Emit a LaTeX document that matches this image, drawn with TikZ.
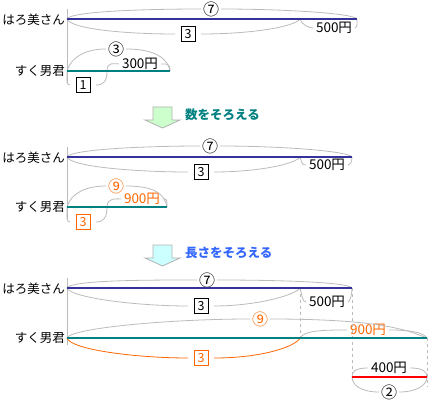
\documentclass[tikz,border=0pt]{standalone}
\usepackage{fontspec}
\setmainfont{Noto Sans CJK JP}
\usetikzlibrary{
    arrows,
    calc,
    %positioning,
    %shapes,
}
\definecolor{barblue}{HTML}{333399}
\definecolor{barteal}{HTML}{008080}
\definecolor{saygreen}{HTML}{008080}
\definecolor{sayblue}{HTML}{3366FF}
\definecolor{partorange}{HTML}{FF6600}
\definecolor{curlgray}{HTML}{BBBBBB}
\definecolor{fillgreen}{HTML}{CCFFCC}
\definecolor{fillcyan}{HTML}{CCFFFF}

\begin{document}
\begin{tikzpicture}[x=1pt, y=-1pt, font=\fontsize{12.5}{15}\selectfont,
    person/.style = {anchor=east, inner sep=1pt},
    tape/.style = {line width=2.5pt},
    curl/.style = {draw=curlgray, line width=0.8pt},
    tag/.style = {inner sep=1pt, outer sep=2pt, font=\fontsize{13.5}{15}\selectfont},
    circled/.style = {inner sep=0pt, outer sep=2pt, font=\fontsize{16}{16}\selectfont},
    numbox/.style = {draw, minimum width=14pt, minimum height=15pt, inner sep=0pt, outer sep=6pt, line width=0.8pt},
    blockarrow/.style = {draw=gray!60, line width=0.8pt},
    say/.style = {anchor=west, inner sep=0pt, font=\fontsize{12.5}{15}\selectfont\bfseries}]
    \useasboundingbox (0,0) rectangle (431,401);

    % first
    \node[person] (h1) at (66,20) {はろ美さん};
    \node[person] (s1) at (66,71) {すく男君};
    \coordinate (v1t) at (67,9);
    \coordinate (v1b) at (67,83);
    \coordinate (h1a) at (67,19);
    \coordinate (h1c) at (300,19);
    \coordinate (h1b) at (357,19);
    \coordinate (s1a) at (67,71);
    \coordinate (s1c) at (107,71);
    \coordinate (s1b) at (170,71);
    \node[circled] (n7a) at (211,9) {⑦};
    \node[numbox] (b3a) at (188,34) {3};
    \node[tag] (y500a) at (334,28) {500円};
    \node[circled] (n3a) at (116,49) {③};
    \node[tag] (y300) at (140,64) {300円};
    \node[numbox] (b1) at (83,85) {1};
    \draw[curl] (v1t) -- (v1b);
    \draw[curl] (h1a) .. controls +(4,-8) and +(-50,0) .. (n7a.west);
    \draw[curl] (n7a.east) .. controls +(60,0) and +(-4,-6) .. (h1b);
    \draw[curl] (h1a) .. controls +(4,10) and +(-50,0) .. (b3a.west);
    \draw[curl] (b3a.east) .. controls +(50,0) and +(-6,8) .. (h1c);
    \draw[curl] (h1c) .. controls +(2,6) and +(-4,0) .. (y500a.west);
    \draw[curl] (y500a.east) .. controls +(2,0) and +(0,8) .. (h1b);
    \draw[curl] (s1a) .. controls +(4,-14) and +(-20,0) .. (n3a.west);
    \draw[curl] (n3a.east) .. controls +(30,0) and +(-2,-12) .. (s1b);
    \draw[curl] (s1c) .. controls +(0,-10) and +(-4,0) .. (y300.west);
    \draw[curl] (y300.east) .. controls +(6,0) and +(0,-8) .. (s1b);
    \draw[curl] (s1a) .. controls +(0,10) and +(-4,0) .. (b1.west);
    \draw[curl] (b1.east) .. controls +(8,0) and +(0,10) .. (s1c);
    \draw[tape, barblue] (h1a) -- (h1b);
    \draw[tape, barteal] (s1a) -- (s1b);

    \draw[blockarrow, fill=fillgreen] (153,107) -- (172,107) -- (172,120) -- (180,120) -- (162.5,128) -- (145,120) -- (153,120) -- cycle;
    \node[say, text=saygreen] (say1) at (185,115) {数をそろえる};

    % second
    \node[person] (h2) at (66,158) {はろ美さん};
    \node[person] (s2) at (66,207) {すく男君};
    \coordinate (v2t) at (67,147);
    \coordinate (v2b) at (67,220);
    \coordinate (h2a) at (67,157);
    \coordinate (h2c) at (300,157);
    \coordinate (h2b) at (352,157);
    \coordinate (s2a) at (67,207);
    \coordinate (s2c) at (107,207);
    \coordinate (s2b) at (167,207);
    \node[circled] (n7b) at (210,146) {⑦};
    \node[numbox] (b3b) at (201,172) {3};
    \node[tag] (y500b) at (327,165) {500円};
    \node[circled, text=partorange] (n9b) at (116,186) {⑨};
    \node[tag, text=partorange] (y900b) at (142,199) {900円};
    \node[numbox, draw=partorange, text=partorange] (b3o) at (83,222) {3};
    \draw[curl] (v2t) -- (v2b);
    \draw[curl] (h2a) .. controls +(4,-8) and +(-50,0) .. (n7b.west);
    \draw[curl] (n7b.east) .. controls +(60,0) and +(-4,-6) .. (h2b);
    \draw[curl] (h2a) .. controls +(4,10) and +(-50,0) .. (b3b.west);
    \draw[curl] (b3b.east) .. controls +(40,0) and +(-6,8) .. (h2c);
    \draw[curl] (h2c) .. controls +(2,6) and +(-4,0) .. (y500b.west);
    \draw[curl] (y500b.east) .. controls +(2,0) and +(0,6) .. (h2b);
    \draw[curl] (s2a) .. controls +(4,-14) and +(-20,0) .. (n9b.west);
    \draw[curl] (n9b.east) .. controls +(30,0) and +(-2,-12) .. (s2b);
    \draw[curl] (s2c) .. controls +(0,-10) and +(-4,0) .. (y900b.west);
    \draw[curl] (y900b.east) .. controls +(4,0) and +(0,-8) .. (s2b);
    \draw[curl] (s2a) .. controls +(0,10) and +(-4,0) .. (b3o.west);
    \draw[curl] (b3o.east) .. controls +(8,0) and +(0,10) .. (s2c);
    \draw[tape, barblue] (h2a) -- (h2b);
    \draw[tape, barteal] (s2a) -- (s2b);

    \draw[blockarrow, fill=fillcyan] (153,245) -- (172,245) -- (172,258) -- (180,258) -- (162.5,266) -- (145,258) -- (153,258) -- cycle;
    \node[say, text=sayblue] (say2) at (185,253) {長さをそろえる};

    % third
    \node[person] (h3) at (66,289) {はろ美さん};
    \node[person] (s3) at (66,338) {すく男君};
    \coordinate (v3t) at (67,278);
    \coordinate (v3b) at (67,345);
    \coordinate (h3a) at (67,288);
    \coordinate (h3c) at (300,288);
    \coordinate (h3b) at (352,288);
    \coordinate (s3a) at (67,338);
    \coordinate (s3c) at (300,338);
    \coordinate (s3b) at (427,338);
    \coordinate (r3a) at (352,377);
    \coordinate (r3b) at (427,377);
    \coordinate (d1) at (352,380);
    \coordinate (d2) at (427,387);
    \node[circled] (n7c) at (207,280) {⑦};
    \node[numbox] (b3c) at (201,306) {3};
    \node[tag] (y500c) at (327,302) {500円};
    \node[circled, text=partorange] (n9c) at (260,319) {⑨};
    \node[tag, text=partorange] (y900c) at (368,330) {900円};
    \node[numbox, draw=partorange, text=partorange] (b3d) at (201,358) {3};
    \node[tag] (y400) at (389,368) {400円};
    \node[circled] (n2) at (389,392) {②};
    \draw[curl] (v3t) -- (v3b);
    \draw[curl, dashed] (h3c) -- (s3c);
    \draw[curl, dashed] (h3b) -- (d1);
    \draw[curl, dashed] (s3b) -- (d2);
    \draw[curl] (h3a) .. controls +(4,-8) and +(-50,0) .. (n7c.west);
    \draw[curl] (n7c.east) .. controls +(60,0) and +(-4,-6) .. (h3b);
    \draw[curl] (h3a) .. controls +(4,10) and +(-50,0) .. (b3c.west);
    \draw[curl] (b3c.east) .. controls +(40,0) and +(-6,8) .. (h3c);
    \draw[curl] (h3c) .. controls +(2,6) and +(-4,0) .. (y500c.west);
    \draw[curl] (y500c.east) .. controls +(2,0) and +(0,6) .. (h3b);
    \draw[curl] (s3a) .. controls +(4,-10) and +(-80,0) .. (n9c.west);
    \draw[curl] (n9c.east) .. controls +(110,0) and +(-20,-8) .. (s3b);
    \draw[curl] (s3c) .. controls +(4,-8) and +(-20,0) .. (y900c.west);
    \draw[curl] (y900c.east) .. controls +(20,0) and +(-4,-6) .. (s3b);
    \draw[curl, draw=partorange] (s3a) .. controls +(4,12) and +(-50,0) .. (b3d.west);
    \draw[curl, draw=partorange] (b3d.east) .. controls +(50,0) and +(-4,8) .. (s3c);
    \draw[curl] (r3a) .. controls +(0,-6) and +(-12,0) .. (y400.west);
    \draw[curl] (y400.east) .. controls +(12,0) and +(0,-6) .. (r3b);
    \draw[curl] (r3a) .. controls +(0,8) and +(-18,0) .. (n2.west);
    \draw[curl] (n2.east) .. controls +(18,0) and +(0,8) .. (r3b);
    \draw[tape, barblue] (h3a) -- (h3b);
    \draw[tape, barteal] (s3a) -- (s3b);
    \draw[tape, red] (r3a) -- (r3b);
\end{tikzpicture}
\end{document}
